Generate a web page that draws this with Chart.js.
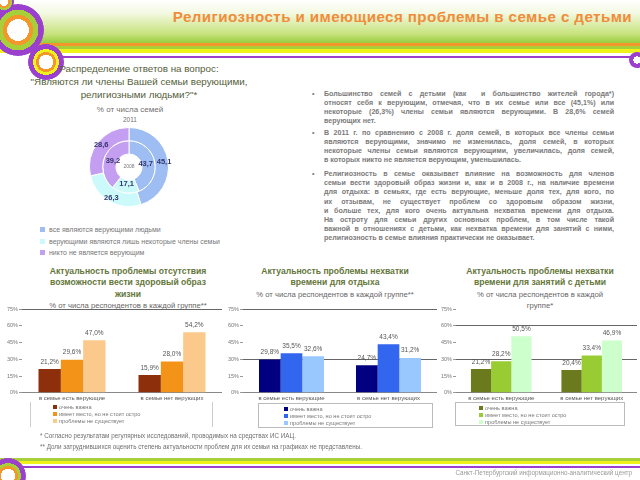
<!DOCTYPE html>
<html>
<head>
<meta charset="utf-8">
<script src="https://cdn.jsdelivr.net/npm/chart.js@4.4.1/dist/chart.umd.min.js"></script>
<style>
  html, body { margin: 0; padding: 0; }
  body { width: 640px; height: 480px; position: relative; overflow: hidden; background: #fff;
         font-family: "Liberation Sans", Arial, sans-serif; }
  .abs { position: absolute; }
  #hdr { left: 0; top: 0; width: 640px; height: 43px;
         background: linear-gradient(to bottom, #ffffff 0%, #f3f9e2 30%, #c6e27a 80%, #98cc3c 100%); }
  #title { left: 120px; top: 8px; width: 512px; text-align: right; color: #f08c3c; font-weight: bold;
           font-size: 15.2px; letter-spacing: 0.4px; white-space: nowrap; }
  .ring { border-radius: 50%; }
  .txt { color: #6f6f6f; }
  #bullets { left: 312px; top: 90px; width: 302px; font-size: 7.1px; font-weight: bold; color: #7a7a7a;
             line-height: 9.05px; }
  #bullets .p { margin: 0 0 3px 0; padding-left: 12px; position: relative; }
  #bullets .p:before { content: "\2022"; position: absolute; left: 0; top: 0; }
  #bullets .l { white-space: nowrap; text-align: justify; text-align-last: justify; }
  #bullets .e { white-space: nowrap; text-align: left; }
  .ctitle { text-align: center; color: #64763a; font-size: 8.6px; line-height: 11.3px; font-weight: bold; white-space: nowrap; }
  .csub { font-weight: normal; color: #666; font-size: 7.7px; }
  .legend { font-size: 5.6px; color: #777; line-height: 7.2px; box-sizing: border-box; }
  .legend span.sq { display: inline-block; width: 4px; height: 4px; margin-right: 2px; vertical-align: 0px; }
  .plegend { font-size: 7px; color: #777; line-height: 11.5px; }
  .plegend span.sq { display: inline-block; width: 5px; height: 5px; margin-right: 4px; }
</style>
</head>
<body>

<!-- header decoration -->
<div id="hdr" class="abs"></div>
<div class="abs" style="left:0;top:43px;width:640px;height:3px;background:#f4962a"></div>
<div class="abs" style="left:0;top:46px;width:640px;height:3px;background:#a6cf3a"></div>
<div class="abs" style="left:0;top:49px;width:640px;height:4px;background:#eef21a"></div>
<div class="abs" style="left:30px;top:56px;width:610px;height:2px;background:#9b3fcf"></div>
<div class="abs ring" style="left:-8px;top:4px;width:52px;height:52px;background:radial-gradient(circle closest-side,#fff 0 42%,#f4962a 42% 58%,#a6cf3a 58% 78%,#9b3fcf 78% 100%,transparent 100%)"></div>
<div class="abs ring" style="left:-6px;top:-8px;width:20px;height:20px;background:radial-gradient(circle closest-side,#fff 0 40%,#f4962a 40% 60%,#a6cf3a 60% 80%,#9b3fcf 80% 100%,transparent 100%)"></div>
<div class="abs ring" style="left:28px;top:44px;width:36px;height:36px;background:radial-gradient(circle closest-side,#fff 0 40%,#f4962a 40% 56%,#eef21a 56% 72%,#9b3fcf 72% 100%,transparent 100%)"></div>
<div class="abs ring" style="left:629px;top:52px;width:16px;height:16px;background:radial-gradient(circle closest-side,#fff 0 45%,#9b3fcf 45% 100%,transparent 100%)"></div>
<div id="title" class="abs">Религиозность и имеющиеся проблемы в семье с детьми</div>

<!-- pie block -->
<div class="abs ctitle" style="left:20px;top:63px;width:238px;font-size:9.8px;line-height:12.8px;color:#55603a;font-weight:normal">
  Распределение ответов на вопрос:<br>"Являются ли члены Вашей семьи верующими,<br>религиозными людьми?"*
</div>
<div class="abs txt" style="left:60px;top:105px;width:140px;text-align:center;font-size:8px">% от числа семей</div>
<div class="abs txt" style="left:60px;top:116px;width:140px;text-align:center;font-size:6.5px">2011</div>
<canvas id="graph-pie" class="abs" width="100" height="80" style="left:79px;top:127px"></canvas>
<div id="pie-legend" class="abs plegend" style="left:40px;top:224px;width:260px"></div>

<!-- bullet text -->
<div id="bullets" class="abs">
  <div class="p">
    <div class="l">Большинство семей с детьми (как&nbsp; и большинство жителей города*)</div>
    <div class="l">относят себя к верующим, отмечая, что в их семье или все (45,1%) или</div>
    <div class="l">некоторые (26,3%) члены семьи являются верующими. В 28,6% семей</div>
    <div class="e">верующих нет.</div>
  </div>
  <div class="p">
    <div class="l">В 2011 г. по сравнению с 2008 г. доля семей, в которых все члены семьи</div>
    <div class="l">являются верующими, значимо не изменилась, доля семей, в которых</div>
    <div class="l">некоторые члены семьи являются верующими, увеличилась, доля семей,</div>
    <div class="e">в которых никто не является верующим, уменьшилась.</div>
  </div>
  <div class="p" style="margin-top:5px">
    <div class="l">Религиозность в семье оказывает влияние на возможность для членов</div>
    <div class="l">семьи вести здоровый образ жизни и, как и в 2008 г., на наличие времени</div>
    <div class="l">для отдыха: в семьях, где есть верующие, меньше доля тех, для кого, по</div>
    <div class="l">их отзывам, не существует проблем со здоровым образом жизни,</div>
    <div class="l">и больше тех, для кого очень актуальна нехватка времени для отдыха.</div>
    <div class="l">На остроту для семьи других основных проблем, в том числе такой</div>
    <div class="l">важной в отношениях с детьми, как нехватка времени для занятий с ними,</div>
    <div class="e">религиозность в семье влияния практически не оказывает.</div>
  </div>
</div>

<!-- bar chart titles -->
<div class="abs ctitle" style="left:28px;top:266px;width:200px">
  Актуальность проблемы отсутствия<br>возможности вести здоровый образ<br>жизни<br><span class="csub">% от числа респондентов в каждой группе**</span>
</div>
<div class="abs ctitle" style="left:235px;top:266px;width:200px">
  Актуальность проблемы нехватки<br>времени для отдыха<br><span class="csub">% от числа респондентов в каждой группе**</span>
</div>
<div class="abs ctitle" style="left:440px;top:266px;width:200px">
  Актуальность проблемы нехватки<br>времени для занятий с детьми<br><span class="csub">% от числа респондентов в каждой<br>группе*</span>
</div>

<canvas id="graph-health" class="abs" width="222" height="101" style="left:0;top:303px"></canvas>
<canvas id="graph-rest" class="abs" width="222" height="101" style="left:215px;top:303px"></canvas>
<canvas id="graph-kids" class="abs" width="202" height="101" style="left:435px;top:303px"></canvas>

<div id="legend-health" class="abs legend" style="left:30px;top:402px;width:183px;height:25px;padding:2px 0 0 22px;border-left:1px solid #ccc;border-right:1px solid #ccc"></div>
<div id="legend-rest" class="abs legend" style="left:258px;top:403px;width:175px;height:25px;padding:2px 0 0 25px;border:1px solid #bbb"></div>
<div id="legend-kids" class="abs legend" style="left:455px;top:402px;width:170px;height:24px;padding:2px 0 0 23px;border:1px solid #bbb"></div>

<!-- footnotes and footer -->
<div class="abs txt" style="left:40px;top:432px;font-size:6.3px">* Согласно результатам регулярных исследований, проводимых на средствах ИС ИАЦ.</div>
<div class="abs txt" style="left:40px;top:443px;font-size:6.3px">** Доли затруднившихся оценить степень актуальности проблем для их семьи на графиках не представлены.</div>
<div class="abs" style="left:0;top:458px;width:640px;height:3px;background:#a6cf3a"></div>
<div class="abs" style="left:0;top:461px;width:640px;height:3px;background:#eef21a"></div>
<div class="abs" style="left:20px;top:466px;width:620px;height:2px;background:#9b3fcf"></div>
<div class="abs ring" style="left:-10px;top:458px;width:36px;height:36px;background:radial-gradient(circle closest-side,#fff 0 40%,#f4962a 40% 56%,#a6cf3a 56% 72%,#9b3fcf 72% 100%,transparent 100%)"></div>
<div class="abs txt" style="left:380px;top:469px;width:252px;text-align:right;font-size:6.3px;color:#999">Санкт-Петербургский информационно-аналитический центр</div>

<script>
// --- data ---
var pieLabels = ['все являются верующими людьми', 'верующими являются лишь некоторые члены семьи', 'никто не является верующим'];
var pieColors = ['#9dbdf3', '#ccfafa', '#c49ef0'];
var pie2011 = [45.1, 26.3, 28.6];
var pie2008 = [43.7, 17.1, 39.2];

var groupLabels = ['в семье есть верующие', 'в семье нет верующих'];
var seriesNames = ['очень важна', 'имеет место, но не стоит остро', 'проблемы не существует'];
var yTicks = [0, 15, 30, 45, 60, 75];

var healthImportant = [21.2, 15.9];
var healthMinor = [29.6, 28.0];
var healthNone = [47.0, 54.2];

var restImportant = [29.8, 24.7];
var restMinor = [35.5, 43.4];
var restNone = [32.6, 31.2];

var kidsImportant = [21.2, 20.4];
var kidsMinor = [28.2, 33.4];
var kidsNone = [50.5, 46.9];

var healthColors = ['#8e2f0c', '#f39419', '#fbc98c'];
var restColors = ['#000080', '#3366ee', '#99c8ff'];
var kidsColors = ['#6b7a1c', '#99cc33', '#ccffcc'];

function comma(v) {
    return v.toFixed(1).replace('.', ',');
}

var pieValueLabels = {
    id: 'pieValueLabels',
    afterDatasetsDraw: function (chart) {
        var ctx = chart.ctx;
        ctx.save();
        ctx.font = 'bold 7.5px "Liberation Sans"';
        ctx.fillStyle = '#33336b';
        ctx.textAlign = 'center';
        ctx.textBaseline = 'middle';
        chart.data.datasets.forEach(function (ds, i) {
            chart.getDatasetMeta(i).data.forEach(function (arc, j) {
                var mid = (arc.startAngle + arc.endAngle) / 2;
                // outer ring labels sit near its rim, inner ring labels near the hole
                var r = i === 0 ? arc.outerRadius - 4 : arc.innerRadius + 4;
                ctx.fillText(comma(ds.data[j]), arc.x + Math.cos(mid) * r, arc.y + Math.sin(mid) * r);
            });
        });
        ctx.font = '5px "Liberation Sans"';
        ctx.fillStyle = '#777';
        var a = chart.getDatasetMeta(0).data[0];
        ctx.fillText('2008', a.x, a.y);
        ctx.restore();
    }
};

var barValueLabels = {
    id: 'barValueLabels',
    afterDatasetsDraw: function (chart) {
        var ctx = chart.ctx;
        ctx.save();
        ctx.font = '6.5px "Liberation Sans"';
        ctx.fillStyle = '#555';
        ctx.textAlign = 'center';
        ctx.textBaseline = 'bottom';
        chart.data.datasets.forEach(function (ds, i) {
            chart.getDatasetMeta(i).data.forEach(function (bar, j) {
                ctx.fillText(comma(ds.data[j]) + '%', bar.x, bar.y - 4);
            });
        });
        ctx.restore();
    }
};

createGraphPie();
createGraphBar('graph-health', 'legend-health', [healthImportant, healthMinor, healthNone], healthColors, [75], 22);
createGraphBar('graph-rest', 'legend-rest', [restImportant, restMinor, restNone], restColors, [75, 30], 28);
createGraphBar('graph-kids', 'legend-kids', [kidsImportant, kidsMinor, kidsNone], kidsColors, [60, 30], 21);

function createGraphPie() {
    var ctx = document.getElementById('graph-pie').getContext('2d');

    var data = {
        labels: pieLabels,
        datasets: [
            { label: '2011', data: pie2011, backgroundColor: pieColors, borderColor: '#fff', borderWidth: 1 },
            { label: '2008', data: pie2008, backgroundColor: pieColors, borderColor: '#fff', borderWidth: 1 }
        ]
    };

    var options = {
        responsive: false,
        animation: false,
        cutout: '33%',
        plugins: { legend: { display: false }, tooltip: { enabled: false } }
    };

    new Chart(ctx, { type: 'doughnut', data: data, options: options, plugins: [pieValueLabels] });

    var html = '';
    pieLabels.forEach(function (name, i) {
        html += '<div><span class="sq" style="background:' + pieColors[i] + '"></span>' + name + '</div>';
    });
    document.getElementById('pie-legend').innerHTML = html;
}

function createGraphBar(canvasId, legendId, series, colors, gridValues, axisWidth) {
    var ctx = document.getElementById(canvasId).getContext('2d');

    var data = {
        labels: groupLabels,
        datasets: series.map(function (values, i) {
            return { label: seriesNames[i], data: values, backgroundColor: colors[i] };
        })
    };

    var options = {
        responsive: false,
        animation: false,
        layout: { padding: { top: 6, right: 0, bottom: 0, left: 0 } },
        datasets: { bar: { categoryPercentage: 0.67, barPercentage: 1.0 } },
        plugins: { legend: { display: false }, tooltip: { enabled: false } },
        scales: {
            x: {
                grid: { display: false, drawTicks: false },
                border: { color: '#888' },
                ticks: { color: '#555', font: { size: 6 }, padding: 2, maxRotation: 0 }
            },
            y: {
                min: yTicks[0],
                max: yTicks[yTicks.length - 1],
                afterBuildTicks: function (scale) {
                    scale.ticks = yTicks.map(function (v) { return { value: v }; });
                },
                afterFit: function (scale) { scale.width = axisWidth; },
                border: { display: false },
                grid: {
                    color: function (c) { return gridValues.indexOf(c.tick.value) >= 0 ? '#666' : 'rgba(0,0,0,0)'; },
                    tickColor: '#999',
                    tickLength: 3
                },
                ticks: {
                    color: '#777', font: { size: 5.5 }, padding: 1,
                    callback: function (v) { return v + '%'; }
                }
            }
        }
    };

    new Chart(ctx, { type: 'bar', data: data, options: options, plugins: [barValueLabels] });

    var html = '';
    seriesNames.forEach(function (name, i) {
        html += '<div><span class="sq" style="background:' + colors[i] + '"></span>' + name + '</div>';
    });
    document.getElementById(legendId).innerHTML = html;
}
</script>
</body>
</html>
